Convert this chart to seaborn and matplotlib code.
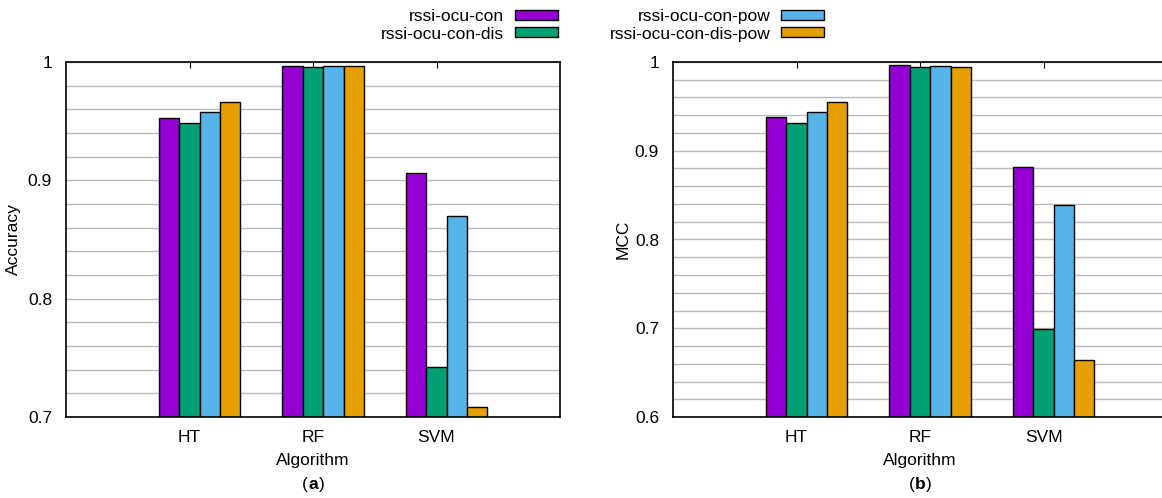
import pandas as pd
import matplotlib.pyplot as plt
import numpy as np
import seaborn as sns
from matplotlib.patches import Patch

algorithms = ['HT', 'RF', 'SVM']
series = ['rssi-ocu-con', 'rssi-ocu-con-dis', 'rssi-ocu-con-pow', 'rssi-ocu-con-dis-pow']

# values, one list per series (HT, RF, SVM)
acc_con = [0.953, 0.997, 0.906]
acc_con_dis = [0.9485, 0.996, 0.742]
acc_con_pow = [0.9575, 0.9966, 0.8695]
acc_con_dis_pow = [0.9665, 0.9963, 0.7085]

mcc_con = [0.9377, 0.9963, 0.8813]
mcc_con_dis = [0.9316, 0.9947, 0.6992]
mcc_con_pow = [0.9434, 0.9955, 0.8385]
mcc_con_dis_pow = [0.955, 0.9947, 0.6639]

colours = ['#9400d3', '#009e73', '#56b4e9', '#e69f00']

def long_table(vals):
    rows = []
    for s, v in zip(series, vals):
        for a, x in zip(algorithms, v):
            rows.append({'Algorithm': a, 'series': s, 'value': x})
    return pd.DataFrame(rows)

df_acc = long_table([acc_con, acc_con_dis, acc_con_pow, acc_con_dis_pow])
df_mcc = long_table([mcc_con, mcc_con_dis, mcc_con_pow, mcc_con_dis_pow])

sns.set_style("white")
plt.rcParams['font.family'] = ['Liberation Sans', 'DejaVu Sans']
FS = 12.5
plt.rcParams['font.size'] = FS
for k in ['text.color', 'axes.labelcolor', 'xtick.color', 'ytick.color']:
    plt.rcParams[k] = 'black'

fig = plt.figure(figsize=(11.62, 4.98), dpi=100)
W, H = 1162, 498
ax1 = fig.add_axes([66 / W, 1 - 417 / H, 494 / W, 355 / H])
ax2 = fig.add_axes([673 / W, 1 - 417 / H, 494 / W, 355 / H])

def draw(ax, df, ymin, ylabel, major, tag, ylpad):
    sns.barplot(data=df, x='Algorithm', y='value', hue='series', hue_order=series,
                palette=colours, width=0.66, edgecolor='black', linewidth=1,
                saturation=1, ax=ax, legend=False, zorder=3)
    ax.set_ylim(ymin, 1.0)
    ax.set_xlim(-1.0825, 2.9175)
    ax.set_xticks([i - 0.0825 for i in range(3)], algorithms)
    ax.set_yticks(major, [('%g' % m) for m in major])
    for g in np.arange(ymin, 1.0001, 0.02):
        ax.axhline(g, color='#bababa', lw=1, zorder=0)
    ax.tick_params(axis='x', direction='in', length=4, width=0.8,
                   top=True, labelsize=FS, pad=9)
    ax.tick_params(axis='y', length=0, pad=10, labelsize=FS)
    for sp in ax.spines.values():
        sp.set_color('black')
        sp.set_linewidth(1.2)
        sp.set_zorder(5)
    ax.set_xlabel('Algorithm', fontsize=FS, labelpad=6)
    ax.set_ylabel(ylabel, fontsize=FS, labelpad=ylpad)
    # panel tag like (a) with the letter in bold
    ax.annotate('(', xy=(0.5, -0.19), xycoords='axes fraction', ha='right', va='center',
                fontsize=FS, xytext=(-4, 0), textcoords='offset points')
    ax.annotate(tag, xy=(0.5, -0.19), xycoords='axes fraction', ha='center', va='center',
                fontsize=FS, fontweight='bold')
    ax.annotate(')', xy=(0.5, -0.19), xycoords='axes fraction', ha='left', va='center',
                fontsize=FS, xytext=(4, 0), textcoords='offset points')

draw(ax1, df_acc, 0.7, 'Accuracy', [0.7, 0.8, 0.9, 1.0], 'a', 5)
draw(ax2, df_mcc, 0.6, 'MCC', [0.6, 0.7, 0.8, 0.9, 1.0], 'b', 3)

handles = [Patch(facecolor=c, edgecolor='black', linewidth=1) for c in colours]
for idx, xr in [(slice(0, 2), 558), (slice(2, 4), 824)]:
    fig.legend(handles[idx], series[idx], loc='upper right',
               bbox_to_anchor=(xr / W, 1 - 9 / H), frameon=False, markerfirst=False,
               handlelength=2.5, handleheight=0.5, handletextpad=0.6,
               labelspacing=0.15, borderpad=0, borderaxespad=0, fontsize=FS)

plt.savefig("out.png", dpi=100)
